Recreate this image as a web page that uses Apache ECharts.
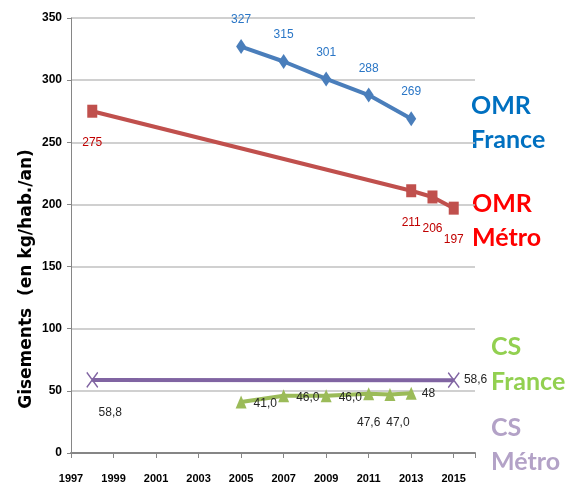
<!DOCTYPE html>
<html>
<head>
<meta charset="utf-8">
<script src="https://cdn.jsdelivr.net/npm/echarts@6/dist/echarts.min.js"></script>
<style>html,body{margin:0;padding:0;background:#fff}#c{width:574px;height:486px}</style>
</head>
<body>
<div id="c"></div>
<script>
// ---- data ----
const X_ORIGIN = 1997; // first year on the axis
const omrFranceYears = [2005, 2007, 2009, 2011, 2013];
const omrFranceValues = [327, 315, 301, 288, 269];
const omrMetroYears = [1998, 2013, 2014, 2015];
const omrMetroValues = [275, 211, 206, 197];
const csFranceYears = [2005, 2007, 2009, 2011, 2012, 2013];
const csFranceValues = [41.0, 46.0, 46.0, 47.6, 47.0, 48];
const csFranceLabels = ['41,0', '46,0', '46,0', '47,6', '47,0', '48'];
const csMetroYears = [1998, 2015];
const csMetroValues = [58.8, 58.6];
const csMetroLabels = ['58,8', '58,6'];
const yTicks = [0, 50, 100, 150, 200, 250, 300, 350];
const legendTexts = ['OMR\nFrance', 'OMR\nMétro', 'CS\nFrance', 'CS\nMétro'];
const yAxisTitle = 'Gisements  (en kg/hab./an)';

// ---- chart ----
const NARROW = '"Liberation Sans Narrow", "Liberation Sans", Arial, sans-serif';
function pts(years, vals) { return years.map((y, i) => [y - X_ORIGIN, vals[i]]); }

const csFrancePos = ['right', 'right', 'right', 'bottom', 'bottom', 'right'];
const csFranceData = pts(csFranceYears, csFranceValues).map((p, i) => ({
  value: p,
  label: csFrancePos[i] === 'bottom'
    ? { position: 'bottom', distance: 16, offset: [i === 4 ? 8 : 0, 0], formatter: csFranceLabels[i] }
    : { position: 'right', distance: i === 5 ? 5 : 7, offset: [0, i === 5 ? 0 : 2], formatter: csFranceLabels[i] }
}));
const csMetroData = pts(csMetroYears, csMetroValues).map((p, i) => ({
  value: p,
  label: i === 0 ? { position: 'bottom', distance: 18, offset: [18, 0], formatter: csMetroLabels[i] }
                 : { position: 'right', distance: 4, formatter: csMetroLabels[i] }
}));

const chart = echarts.init(document.getElementById('c'), null, { renderer: 'canvas' });
chart.setOption({
  animation: false,
  backgroundColor: '#ffffff',
  grid: { left: 71, right: 99, top: 18, bottom: 33, containLabel: false },
  xAxis: {
    type: 'value', min: 0, max: 19, interval: 2,
    axisLine: { show: true, lineStyle: { color: '#868686', width: 2 } },
    axisTick: { show: true, length: 5, lineStyle: { color: '#868686', width: 1 } },
    splitLine: { show: false },
    axisLabel: {
      margin: 20, fontFamily: NARROW, fontWeight: 'bold', fontSize: 11, color: '#000',
      formatter: v => (v % 2 === 0 && v <= 18) ? String(v + X_ORIGIN) : ''
    }
  },
  yAxis: {
    type: 'value', min: yTicks[0], max: yTicks[yTicks.length - 1], interval: 50,
    axisLine: { show: true, lineStyle: { color: '#868686', width: 1 } },
    axisTick: { show: true, length: 4, lineStyle: { color: '#868686' } },
    splitLine: { show: true, lineStyle: { color: '#c0c0c0', width: 1.5 } },
    axisLabel: { margin: 9, fontFamily: NARROW, fontWeight: 'bold', fontSize: 12, color: '#000' }
  },
  series: [
    {
      name: 'OMR France', type: 'line', data: pts(omrFranceYears, omrFranceValues),
      symbol: 'diamond', symbolSize: [10, 15],
      lineStyle: { color: '#4a7ebb', width: 4 }, itemStyle: { color: '#4a7ebb' },
      label: { show: true, position: 'top', distance: 13, color: '#2a76c6', fontFamily: NARROW, fontSize: 12 },
      z: 4
    },
    {
      name: 'OMR Métro', type: 'line', data: pts(omrMetroYears, omrMetroValues),
      symbol: 'rect', symbolSize: [10, 13],
      lineStyle: { color: '#c0504d', width: 4 }, itemStyle: { color: '#c0504d' },
      label: { show: true, position: 'bottom', distance: 19, color: '#c00000', fontFamily: NARROW, fontSize: 12 },
      z: 4
    },
    {
      name: 'CS France', type: 'line', data: csFranceData,
      symbol: 'triangle', symbolSize: [11, 13],
      lineStyle: { color: '#9bbb59', width: 4 }, itemStyle: { color: '#9bbb59' },
      label: { show: true, color: '#262626', fontFamily: NARROW, fontSize: 12 },
      z: 3
    },
    {
      name: 'CS Métro', type: 'line', data: csMetroData,
      symbol: 'path://M0,0L10,14M10,0L0,14', symbolSize: [11, 15],
      lineStyle: { color: '#8064a2', width: 4 },
      itemStyle: { color: 'rgba(0,0,0,0)', borderColor: '#8064a2', borderWidth: 1.5 },
      label: { show: true, color: '#262626', fontFamily: NARROW, fontSize: 12 },
      z: 2
    }
  ],
  graphic: [
    {
      type: 'text', x: 27, y: 279, rotation: Math.PI / 2,
      style: { text: yAxisTitle, fill: '#000', font: 'bold 17px "DejaVu Sans", sans-serif',
               align: 'center', verticalAlign: 'middle' }
    },
    { type: 'text', left: 471, top: 89, style: { text: legendTexts[0], fill: '#0070c0', font: 'bold 25px Lato, sans-serif', lineHeight: 34 } },
    { type: 'text', left: 472, top: 187, style: { text: legendTexts[1], fill: '#ff0000', font: 'bold 25px Lato, sans-serif', lineHeight: 34 } },
    { type: 'text', left: 491, top: 329, style: { text: legendTexts[2], fill: '#92d050', font: 'bold 25px Lato, sans-serif', lineHeight: 35 } },
    { type: 'text', left: 491, top: 411, style: { text: legendTexts[3], fill: '#b3a2c7', font: 'bold 25px Lato, sans-serif', lineHeight: 34 } }
  ]
});
</script>
</body>
</html>
